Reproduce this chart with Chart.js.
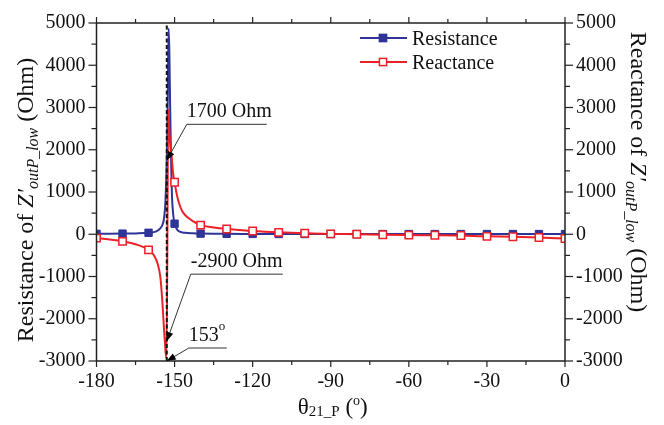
<!DOCTYPE html>
<html>
<head>
<meta charset="utf-8">
<script src="https://cdn.jsdelivr.net/npm/chart.js@4.4.0/dist/chart.umd.min.js"></script>
<style>
body { margin: 0; background: #fff; }
canvas { display: block; }
</style>
</head>
<body>
<canvas id="chart" width="664" height="425"></canvas>
<script>
// DATA
const res_angle = [-180, -175, -170, -165, -160, -157, -155.5, -154.5, -154, -153.5, -153, -152.6, -152.3, -152, -151.7, -151.3, -151, -150.5, -150, -149, -148, -146, -143, -140, -130, -120, -110, -100, -90, -80, -70, -60, -50, -40, -30, -20, -10, 0];
const resistance = [10, 12, 15, 20, 35, 70, 140, 250, 400, 800, 1800, 3300, 4870, 4300, 3000, 1600, 900, 450, 250, 110, 60, 35, 22, 15, 10, 8, 6, 5, 5, 5, 5, 5, 5, 5, 5, 5, 5, 5];

const rea_angle = [-180, -175, -170, -165, -160, -158, -156.5, -155.5, -154.8, -154.3, -153.9, -153.5, -153.1, -152.4, -152, -151.5, -151.2, -150.6, -150, -149, -148, -147, -145, -143, -140, -135, -130, -125, -120, -110, -100, -90, -80, -70, -60, -50, -40, -30, -20, -10, 0];
const reactance = [-90, -125, -168, -235, -370, -490, -700, -1000, -1500, -2000, -2400, -2750, -2950, 2950, 2400, 2000, 1900, 1460, 1230, 900, 680, 540, 400, 310, 215, 160, 125, 100, 77, 45, 23, 8, 0, -12, -20, -23, -30, -50, -60, -77, -100];

const marker_step = 10;          // a symbol every 10 degrees
const resonance_angle = -153;    // dashed line

const x_ticks = [-180, -150, -120, -90, -60, -30, 0];
const y_ticks = [-3000, -2000, -1000, 0, 1000, 2000, 3000, 4000, 5000];
const x_minor = 15;
const y_minor = 500;

const series_names = ['Resistance', 'Reactance'];

// annotations: arrow tip in data units, text
const notes = [
  { x: -153, y: 1750, text: ['1700 Ohm'] },
  { x: -153, y: -2530, text: ['-2900 Ohm'] },
  { x: -153, y: -3000, text: ['153', 'o'] }
];
// leader geometry (px)
const note_geom = [
  { dx: 20, dy: -36, len: 80 },
  { dx: 24, dy: -67, len: 92 },
  { dx: 22, dy: -13, len: 38 }
];

const FONT = 'Liberation Serif';
const BLUE = '#2e3597';
const RED = '#ec2027';
const AXIS = '#222';

function toPoints(xs, ys) {
  return xs.map((x, i) => ({ x: x, y: ys[i] }));
}

function markerRadius(r) {
  return c => (c.raw && c.raw.x % marker_step === 0) ? r : 0;
}

function line(ctx, x1, y1, x2, y2) {
  ctx.beginPath();
  ctx.moveTo(x1, y1);
  ctx.lineTo(x2, y2);
  ctx.stroke();
}

// draw pieces of text (sub/superscripts) one after the other, centred
function richText(ctx, parts, x, y, angle, align) {
  ctx.save();
  ctx.translate(x, y);
  ctx.rotate(angle || 0);
  let total = 0;
  parts.forEach(p => { ctx.font = p.font; p.w = ctx.measureText(p.t).width; total += p.w; });
  let cx = align === 'left' ? 0 : -total / 2;
  ctx.textAlign = 'left';
  ctx.textBaseline = 'alphabetic';
  ctx.fillStyle = '#111';
  parts.forEach(p => { ctx.font = p.font; ctx.fillText(p.t, cx, p.dy || 0); cx += p.w; });
  ctx.restore();
}

function drawMarker(ctx, x, y, filled, color) {
  const s = 3.6;
  ctx.fillStyle = filled ? color : '#fff';
  ctx.fillRect(x - s, y - s, 2 * s, 2 * s);
  ctx.strokeStyle = color;
  ctx.lineWidth = 1.5;
  ctx.strokeRect(x - s, y - s, 2 * s, 2 * s);
}

const framePlugin = {
  id: 'frame',
  afterDraw(chart) {
    const ctx = chart.ctx;
    const a = chart.chartArea;
    const xs = chart.scales.x, ys = chart.scales.y;

    // frame and ticks
    ctx.save();
    ctx.strokeStyle = AXIS;
    ctx.lineWidth = 1.5;
    ctx.strokeRect(a.left, a.top, a.right - a.left, a.bottom - a.top);
    ctx.lineWidth = 1.2;
    for (let v = xs.min; v <= xs.max; v += x_minor) {
      const px = xs.getPixelForValue(v);
      const len = x_ticks.includes(v) ? 6 : 4;
      line(ctx, px, a.bottom, px, a.bottom + len);
      line(ctx, px, a.top, px, a.top - len);
    }
    for (let v = ys.min; v <= ys.max; v += y_minor) {
      const py = ys.getPixelForValue(v);
      const len = y_ticks.includes(v) ? 8 : 5;
      line(ctx, a.left - len, py, a.left, py);
      line(ctx, a.right, py, a.right + len, py);
    }
    ctx.restore();

    // axis titles
    const big = '24px "' + FONT + '"';
    const bigI = 'italic 24px "' + FONT + '"';
    const subI = 'italic 16px "' + FONT + '"';
    richText(ctx, [
      { t: 'Resistance of ', font: big },
      { t: 'Z\u2032', font: bigI },
      { t: 'outP_low', font: subI, dy: 5 },
      { t: ' (Ohm)', font: big }
    ], a.left - 64, (a.top + a.bottom) / 2 + 8, -Math.PI / 2);
    richText(ctx, [
      { t: 'Reactance of ', font: big },
      { t: 'Z\u2032', font: bigI },
      { t: 'outP_low', font: subI, dy: 5 },
      { t: ' (Ohm)', font: big }
    ], a.right + 66, (a.top + a.bottom) / 2 - 20, Math.PI / 2);
    richText(ctx, [
      { t: '\u03b8', font: '23px "' + FONT + '"' },
      { t: '21_P', font: '15px "' + FONT + '"', dy: 2 },
      { t: ' (', font: '23px "' + FONT + '"' },
      { t: 'o', font: '14px "' + FONT + '"', dy: -9 },
      { t: ')', font: '23px "' + FONT + '"' }
    ], (a.left + a.right) / 2 + 2, a.bottom + 53, 0);

    // legend
    const lx = 360, ly = [38, 62];
    [[BLUE, true], [RED, false]].forEach((s, i) => {
      ctx.save();
      ctx.strokeStyle = s[0];
      ctx.lineWidth = 2;
      line(ctx, lx, ly[i], lx + 47, ly[i]);
      drawMarker(ctx, lx + 23, ly[i], s[1], s[0]);
      ctx.restore();
      richText(ctx, [{ t: series_names[i], font: '20px "' + FONT + '"' }], lx + 52, ly[i] + 7, 0, 'left');
    });

    // annotations with leader lines and arrows
    notes.forEach((n, i) => {
      const g = note_geom[i];
      const tx = xs.getPixelForValue(n.x), ty = ys.getPixelForValue(n.y);
      const ex = tx + g.dx, ey = ty + g.dy;
      ctx.save();
      ctx.strokeStyle = '#333';
      ctx.lineWidth = 1;
      line(ctx, ex + g.len, ey, ex, ey);
      line(ctx, ex, ey, tx, ty);
      const ang = Math.atan2(ty - ey, tx - ex);
      ctx.fillStyle = '#000';
      ctx.beginPath();
      ctx.moveTo(tx, ty);
      ctx.lineTo(tx - 9 * Math.cos(ang) + 3.5 * Math.sin(ang), ty - 9 * Math.sin(ang) - 3.5 * Math.cos(ang));
      ctx.lineTo(tx - 9 * Math.cos(ang) - 3.5 * Math.sin(ang), ty - 9 * Math.sin(ang) + 3.5 * Math.cos(ang));
      ctx.closePath();
      ctx.fill();
      ctx.restore();
      const parts = [{ t: n.text[0], font: '20px "' + FONT + '"' }];
      if (n.text[1]) parts.push({ t: n.text[1], font: '13px "' + FONT + '"', dy: -11 });
      richText(ctx, parts, ex, ey - 7, 0, 'left');
    });
  }
};

const tickFont = { family: FONT, size: 20 };
const plain = v => String(v);

const ctx = document.getElementById('chart').getContext('2d');
new Chart(ctx, {
  type: 'scatter',
  data: {
    datasets: [{
      label: 'resonance',
      data: [{ x: resonance_angle, y: y_ticks[0] }, { x: resonance_angle, y: y_ticks[y_ticks.length - 1] }],
      showLine: true,
      borderColor: '#111',
      borderWidth: 2,
      borderDash: [4, 2.5],
      pointRadius: 0,
      order: 0
    }, {
      label: series_names[1],
      data: toPoints(rea_angle, reactance),
      showLine: true,
      borderColor: RED,
      borderWidth: 2,
      cubicInterpolationMode: 'monotone',
      pointStyle: 'rect',
      pointRadius: markerRadius(5.2),
      pointBackgroundColor: '#fff',
      pointBorderColor: RED,
      pointBorderWidth: 1.5,
      order: 1
    }, {
      label: series_names[0],
      data: toPoints(res_angle, resistance),
      showLine: true,
      borderColor: BLUE,
      borderWidth: 2,
      cubicInterpolationMode: 'monotone',
      pointStyle: 'rect',
      pointRadius: markerRadius(5.2),
      pointBackgroundColor: BLUE,
      pointBorderColor: BLUE,
      pointBorderWidth: 1,
      order: 2
    }]
  },
  options: {
    responsive: false,
    animation: false,
    layout: { padding: { top: 13, left: 0, right: 0, bottom: 0 } },
    plugins: { legend: { display: false }, tooltip: { enabled: false } },
    scales: {
      x: {
        type: 'linear',
        min: x_ticks[0],
        max: x_ticks[x_ticks.length - 1],
        afterBuildTicks: s => { s.ticks = x_ticks.map(v => ({ value: v })); },
        afterFit: s => { s.height = 64; },
        grid: { display: false, drawTicks: false },
        border: { display: false },
        ticks: { font: tickFont, color: '#111', padding: 9, maxRotation: 0, callback: plain }
      },
      y: {
        min: y_ticks[0],
        max: y_ticks[y_ticks.length - 1],
        afterBuildTicks: s => { s.ticks = y_ticks.map(v => ({ value: v })); },
        afterFit: s => { s.width = 96.5; },
        grid: { display: false, drawTicks: false },
        border: { display: false },
        ticks: { font: tickFont, color: '#111', padding: 11, callback: plain }
      },
      y1: {
        position: 'right',
        display: true,
        min: y_ticks[0],
        max: y_ticks[y_ticks.length - 1],
        afterBuildTicks: s => { s.ticks = y_ticks.map(v => ({ value: v })); },
        afterFit: s => { s.width = 99; },
        grid: { display: false, drawTicks: false },
        border: { display: false },
        ticks: { font: tickFont, color: '#111', padding: 11, callback: plain }
      }
    }
  },
  plugins: [framePlugin]
});
</script>
</body>
</html>
